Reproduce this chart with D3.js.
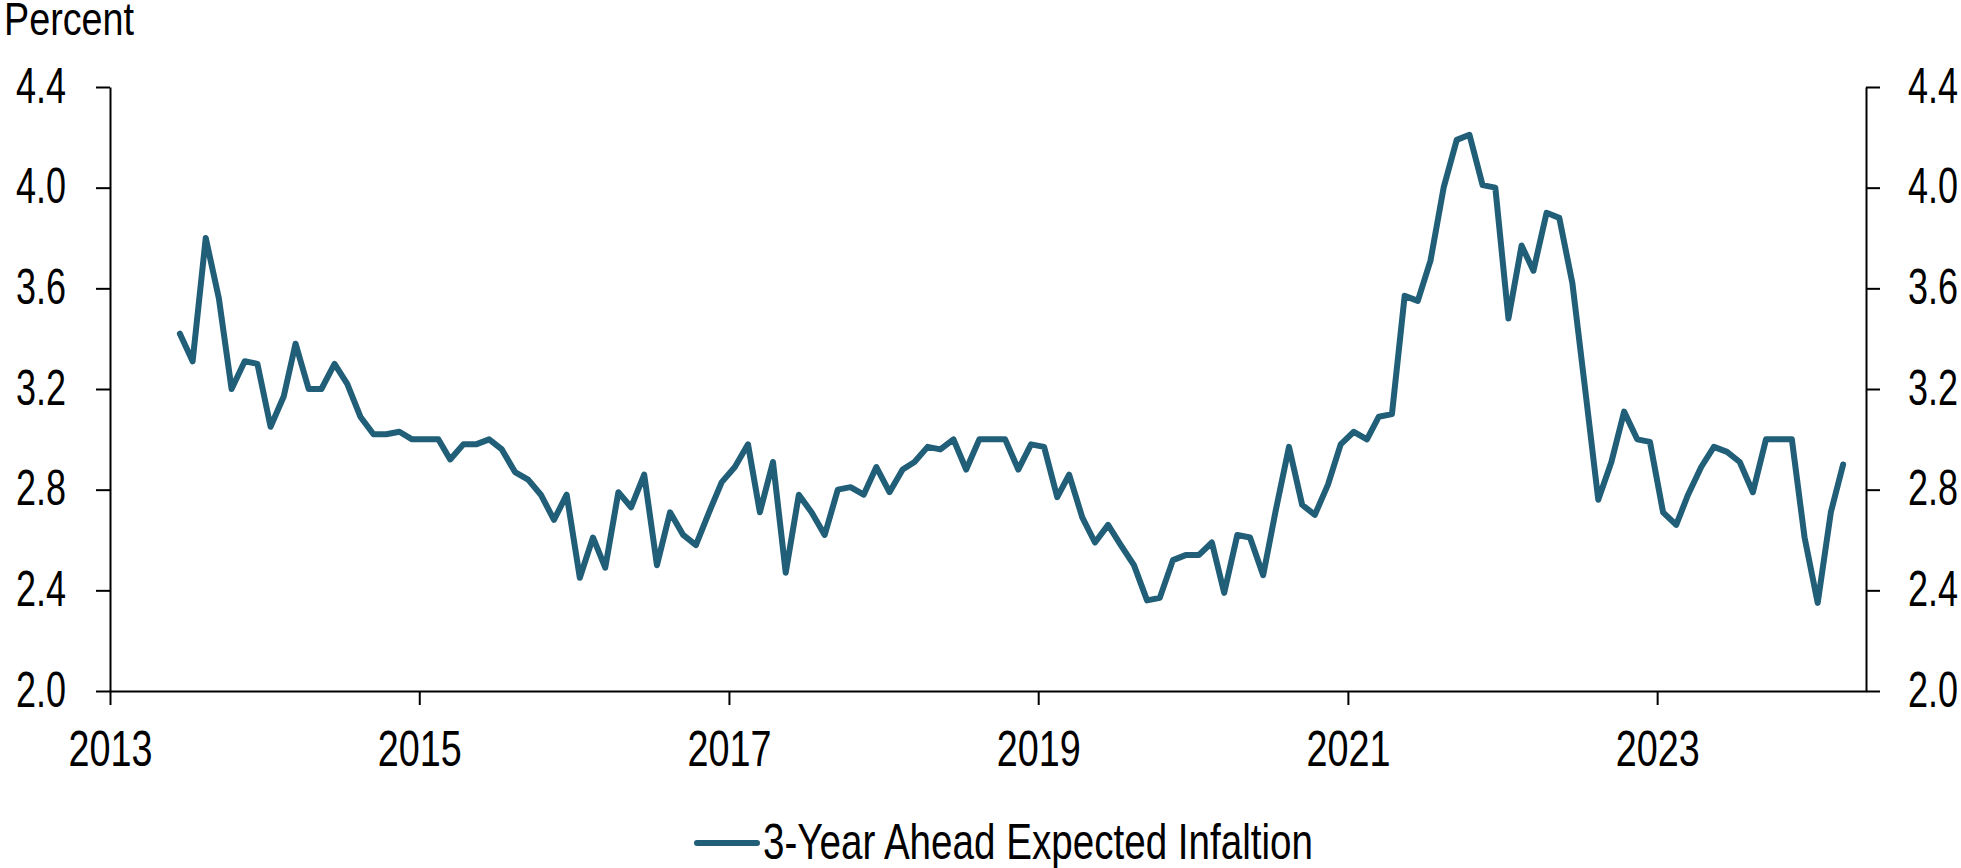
<!DOCTYPE html>
<html>
<head>
<meta charset="utf-8">
<script src="https://cdn.jsdelivr.net/npm/d3@7"></script>
<style>
  html, body { margin: 0; padding: 0; background: #ffffff; }
  svg { display: block; }
  text { font-family: "Liberation Sans", Arial, sans-serif; fill: #000; }
</style>
</head>
<body>
<svg id="chart" width="1961" height="868"></svg>
<script>
// ---- Data (NY Fed SCE, 3-year ahead median expected inflation, %) ----
const months = [
  "2013-06","2013-07","2013-08","2013-09","2013-10","2013-11","2013-12",
  "2014-01","2014-02","2014-03","2014-04","2014-05","2014-06","2014-07","2014-08","2014-09","2014-10","2014-11","2014-12",
  "2015-01","2015-02","2015-03","2015-04","2015-05","2015-06","2015-07","2015-08","2015-09","2015-10","2015-11","2015-12",
  "2016-01","2016-02","2016-03","2016-04","2016-05","2016-06","2016-07","2016-08","2016-09","2016-10","2016-11","2016-12",
  "2017-01","2017-02","2017-03","2017-04","2017-05","2017-06","2017-07","2017-08","2017-09","2017-10","2017-11","2017-12",
  "2018-01","2018-02","2018-03","2018-04","2018-05","2018-06","2018-07","2018-08","2018-09","2018-10","2018-11","2018-12",
  "2019-01","2019-02","2019-03","2019-04","2019-05","2019-06","2019-07","2019-08","2019-09","2019-10","2019-11","2019-12",
  "2020-01","2020-02","2020-03","2020-04","2020-05","2020-06","2020-07","2020-08","2020-09","2020-10","2020-11","2020-12",
  "2021-01","2021-02","2021-03","2021-04","2021-05","2021-06","2021-07","2021-08","2021-09","2021-10","2021-11","2021-12",
  "2022-01","2022-02","2022-03","2022-04","2022-05","2022-06","2022-07","2022-08","2022-09","2022-10","2022-11","2022-12",
  "2023-01","2023-02","2023-03","2023-04","2023-05","2023-06","2023-07","2023-08","2023-09","2023-10","2023-11","2023-12",
  "2024-01","2024-02","2024-03"
];
const expectedInflation3y = [
  3.42,3.31,3.80,3.56,3.20,3.31,3.30,
  3.05,3.17,3.38,3.20,3.20,3.30,3.22,3.09,3.02,3.02,3.03,3.00,
  3.00,3.00,2.92,2.98,2.98,3.00,2.96,2.87,2.84,2.78,2.68,2.78,
  2.45,2.61,2.49,2.79,2.73,2.86,2.50,2.71,2.62,2.58,2.71,2.83,
  2.89,2.98,2.71,2.91,2.47,2.78,2.71,2.62,2.80,2.81,2.78,2.89,
  2.79,2.88,2.91,2.97,2.96,3.00,2.88,3.00,3.00,3.00,2.88,2.98,
  2.97,2.77,2.86,2.69,2.59,2.66,2.58,2.50,2.36,2.37,2.52,2.54,
  2.54,2.59,2.39,2.62,2.61,2.46,2.72,2.97,2.74,2.70,2.82,2.98,
  3.03,3.00,3.09,3.10,3.57,3.55,3.71,4.00,4.19,4.21,4.01,4.00,
  3.48,3.77,3.67,3.90,3.88,3.62,3.20,2.76,2.91,3.11,3.00,2.99,
  2.71,2.66,2.78,2.89,2.97,2.95,2.91,2.79,3.00,3.00,3.00,2.61,
  2.35,2.71,2.90
];
const yTicks = [2.0, 2.4, 2.8, 3.2, 3.6, 4.0, 4.4];
const xTickYears = [2013, 2015, 2017, 2019, 2021, 2023];
const seriesName = "3-Year Ahead Expected Infaltion";
const yAxisTitle = "Percent";

// ---- Layout ----
const svg = d3.select("#chart");
const plotLeft = 110, plotRight = 1866, plotTop = 87, plotBottom = 691;
const lineColor = "#215e78";
const fontSize = 50;

// Emulate the reference's condensed typeface: squeeze each text to a target width
function condenseTo(sel, targetWidth) {
  sel.each(function () {
    d3.select(this).attr("textLength", targetWidth).attr("lengthAdjust", "spacingAndGlyphs");
  });
}

const parse = d3.timeParse("%Y-%m");
const data = months.map((m, i) => {
  const d = parse(m);
  return { date: new Date(d.getFullYear(), d.getMonth(), 15), value: expectedInflation3y[i] };
});

const x = d3.scaleTime()
  .domain([new Date(2013, 0, 1), new Date(2024, 4, 8)])
  .range([plotLeft, plotRight]);
const y = d3.scaleLinear().domain([2.0, 4.4]).range([plotBottom, plotTop]);

function styleAxis(g, labelWidth) {
  g.selectAll("path.domain").attr("stroke", "#000").attr("stroke-width", 2);
  g.selectAll(".tick line").attr("stroke", "#000").attr("stroke-width", 2);
  const t = g.selectAll(".tick text")
    .style("font-size", fontSize + "px")
    .attr("fill", "#000");
  condenseTo(t, labelWidth);
}

// Left axis
const gl = svg.append("g")
  .attr("transform", `translate(${plotLeft},0)`)
  .call(d3.axisLeft(y).tickValues(yTicks).tickFormat(d3.format(".1f"))
    .tickSize(14).tickSizeOuter(0).tickPadding(30));
styleAxis(gl, 50);
gl.selectAll(".tick text").attr("dy", "0.3em");

// Right axis
const gr = svg.append("g")
  .attr("transform", `translate(${plotRight},0)`)
  .call(d3.axisRight(y).tickValues(yTicks).tickFormat(d3.format(".1f"))
    .tickSize(14).tickSizeOuter(0).tickPadding(28));
styleAxis(gr, 50);
gr.selectAll(".tick text").attr("dy", "0.3em");

// Bottom axis
const gb = svg.append("g")
  .attr("transform", `translate(0,${plotBottom})`)
  .call(d3.axisBottom(x)
    .tickValues(xTickYears.map(yr => new Date(yr, 0, 1)))
    .tickFormat(d3.timeFormat("%Y"))
    .tickSize(14).tickSizeOuter(0).tickPadding(25));
styleAxis(gb, 84);

// Line
const line = d3.line().x(d => x(d.date)).y(d => y(d.value));
svg.append("path")
  .datum(data)
  .attr("fill", "none")
  .attr("stroke", lineColor)
  .attr("stroke-width", 6)
  .attr("stroke-linejoin", "round")
  .attr("stroke-linecap", "round")
  .attr("d", line);

// Y axis title
const title = svg.append("text")
  .attr("x", 4).attr("y", 35)
  .style("font-size", "46px")
  .text(yAxisTitle);
condenseTo(title, 130);

// Legend
const lg = svg.append("g").attr("transform", "translate(697,843)");
lg.append("line")
  .attr("x1", 0).attr("x2", 60).attr("y1", 0).attr("y2", 0)
  .attr("stroke", lineColor).attr("stroke-width", 6).attr("stroke-linecap", "round");
const lt = lg.append("text")
  .attr("x", 66).attr("y", 16)
  .style("font-size", fontSize + "px")
  .text(seriesName);
condenseTo(lt, 550);
</script>
</body>
</html>
